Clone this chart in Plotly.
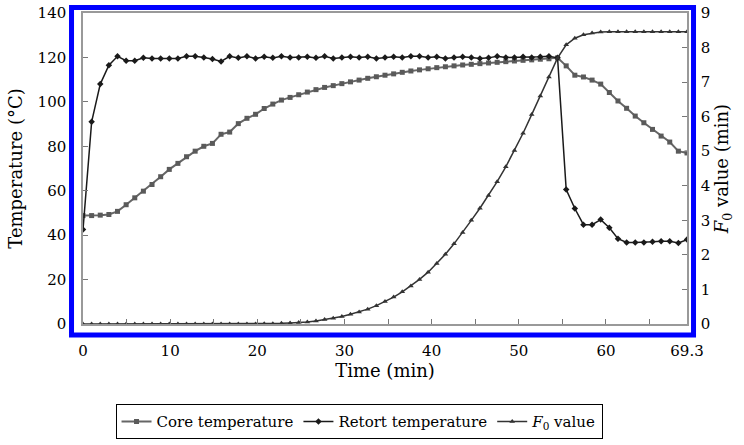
import plotly.graph_objects as go

time_min = [0, 0.99, 1.98, 2.97, 3.96, 4.95, 5.94, 6.93, 7.92, 8.91,
            9.9, 10.89, 11.88, 12.87, 13.86, 14.85, 15.84, 16.83, 17.82, 18.81,
            19.8, 20.79, 21.78, 22.77, 23.76, 24.75, 25.74, 26.73, 27.72, 28.71,
            29.7, 30.69, 31.68, 32.67, 33.66, 34.65, 35.64, 36.63, 37.62, 38.61,
            39.6, 40.59, 41.58, 42.57, 43.56, 44.55, 45.54, 46.53, 47.52, 48.51,
            49.5, 50.49, 51.48, 52.47, 53.46, 54.45, 55.44, 56.43, 57.42, 58.41,
            59.4, 60.39, 61.38, 62.37, 63.36, 64.35, 65.34, 66.33, 67.32, 68.31, 69.3]

core_temp = [48.8, 48.8, 49.0, 49.3, 50.7, 53.7, 56.8, 59.8, 62.8, 66.3,
             69.6, 72.3, 75.3, 77.8, 80.0, 81.3, 85.4, 86.4, 90.2, 92.6,
             94.4, 97.0, 99.0, 100.8, 102.0, 103.2, 104.4, 105.5, 106.5, 107.3,
             108.2, 109.0, 109.8, 110.6, 111.3, 112.0, 112.6, 113.3, 113.9, 114.4,
             114.9, 115.4, 115.8, 116.2, 116.6, 116.9, 117.2, 117.5, 117.8, 118.1,
             118.4, 118.7, 118.9, 119.2, 119.4, 119.8, 116.2, 112.0, 111.2, 109.8,
             108.0, 104.2, 100.4, 97.1, 93.6, 90.6, 87.6, 84.6, 81.9, 77.8, 77.0]

retort_temp = [42.5, 91.0, 108.0, 116.5, 120.5, 118.5, 118.5, 119.8, 119.5, 119.5,
               119.5, 119.5, 120.5, 120.5, 120.0, 119.3, 118.2, 120.5, 119.8, 120.5,
               119.5, 120.3, 119.8, 120.5, 120.0, 120.0, 120.3, 119.8, 120.5, 119.5,
               120.0, 120.3, 120.0, 120.3, 119.5, 120.0, 120.3, 120.0, 120.5, 120.5,
               120.0, 120.3, 119.5, 120.0, 120.3, 120.0, 119.5, 119.8, 120.5, 120.0,
               120.0, 120.3, 120.0, 120.3, 120.5, 119.8, 60.5, 52.0, 44.7, 44.7,
               47.0, 43.3, 38.4, 36.7, 36.7, 36.7, 37.0, 37.3, 37.2, 36.5, 38.0]

f0_value = [0, 0, 0, 0, 0, 0, 0, 0, 0, 0,
            0, 0, 0, 0, 0, 0, 0, 0, 0, 0,
            0, 0.01, 0.01, 0.02, 0.03, 0.04, 0.06, 0.09, 0.13, 0.17,
            0.22, 0.28, 0.35, 0.43, 0.53, 0.65, 0.78, 0.93, 1.10, 1.29,
            1.50, 1.75, 2.02, 2.32, 2.65, 3.00, 3.35, 3.72, 4.12, 4.55,
            5.02, 5.52, 6.06, 6.60, 7.15, 7.70, 8.08, 8.27, 8.37, 8.42,
            8.45, 8.46, 8.46, 8.46, 8.46, 8.46, 8.46, 8.46, 8.46, 8.46, 8.46]

x_tick_vals = [0, 10, 20, 30, 40, 50, 60, 69.3]
x_tick_text = ["0", "10", "20", "30", "40", "50", "60", "69.3"]

FONT = "DejaVu Serif"

fig = go.Figure()
fig.add_trace(go.Scatter(
    x=time_min, y=core_temp, name="Core temperature", mode="lines+markers",
    line=dict(color="#666666", width=2),
    marker=dict(symbol="square", size=5, color="#5a5a5a"),
))
fig.add_trace(go.Scatter(
    x=time_min, y=retort_temp, name="Retort temperature", mode="lines+markers",
    line=dict(color="#1a1a1a", width=1.5),
    marker=dict(symbol="diamond", size=5, color="#1a1a1a"),
))
fig.add_trace(go.Scatter(
    x=time_min, y=f0_value, name="<i>F</i><sub>0</sub> value", mode="lines+markers",
    yaxis="y2",
    line=dict(color="#333333", width=1.5),
    marker=dict(symbol="triangle-up", size=5, color="#333333"),
))

fig.update_layout(
    width=744, height=445,
    margin=dict(l=83, r=57, t=13, b=121, autoexpand=False),
    paper_bgcolor="white", plot_bgcolor="white",
    font=dict(family=FONT, size=15, color="black"),
    showlegend=True,
    legend=dict(
        orientation="h", x=0.457, xanchor="center", y=-0.258, yanchor="top",
        bordercolor="black", borderwidth=1, font=dict(family=FONT, size=15),
        itemwidth=30, tracegroupgap=0,
    ),
    xaxis=dict(
        range=[0, 69.3], showgrid=False, zeroline=False, automargin=False,
        showline=True, linecolor="#999999", linewidth=1.5, mirror=True,
        tickvals=x_tick_vals, ticktext=x_tick_text,
        ticks="inside", ticklen=5, tickcolor="#777777",
        minor=dict(dtick=5, ticks="inside", ticklen=5, tickcolor="#777777"),
        ticklabelstandoff=12,
        title=dict(text="Time (min)", standoff=4, font=dict(size=18)),
    ),
    yaxis=dict(
        range=[0, 140], dtick=20, showgrid=False, zeroline=False, automargin=False,
        showline=True, linecolor="#999999", linewidth=1.5,
        ticks="inside", ticklen=5, tickcolor="#777777",
        ticklabelstandoff=12,
        title=dict(text="Temperature (°C)", standoff=10, font=dict(size=18)),
    ),
    yaxis2=dict(
        range=[0, 9], dtick=1, overlaying="y", side="right", automargin=False,
        showgrid=False, zeroline=False,
        showline=True, linecolor="#999999", linewidth=1.5,
        ticks="inside", ticklen=5, tickcolor="#777777",
        ticklabelstandoff=9,
        title=dict(text="<i>F</i><sub>0</sub> value (min)", standoff=6, font=dict(size=18)),
    ),
)

# blue highlight frame around plotting area
fig.add_shape(
    type="rect", xref="paper", yref="paper",
    x0=-0.019, x1=1.0108, y0=-0.0354, y1=1.0177,
    line=dict(color="#0000ff", width=5), fillcolor="rgba(0,0,0,0)", layer="above",
)

fig.write_html("out.html")
